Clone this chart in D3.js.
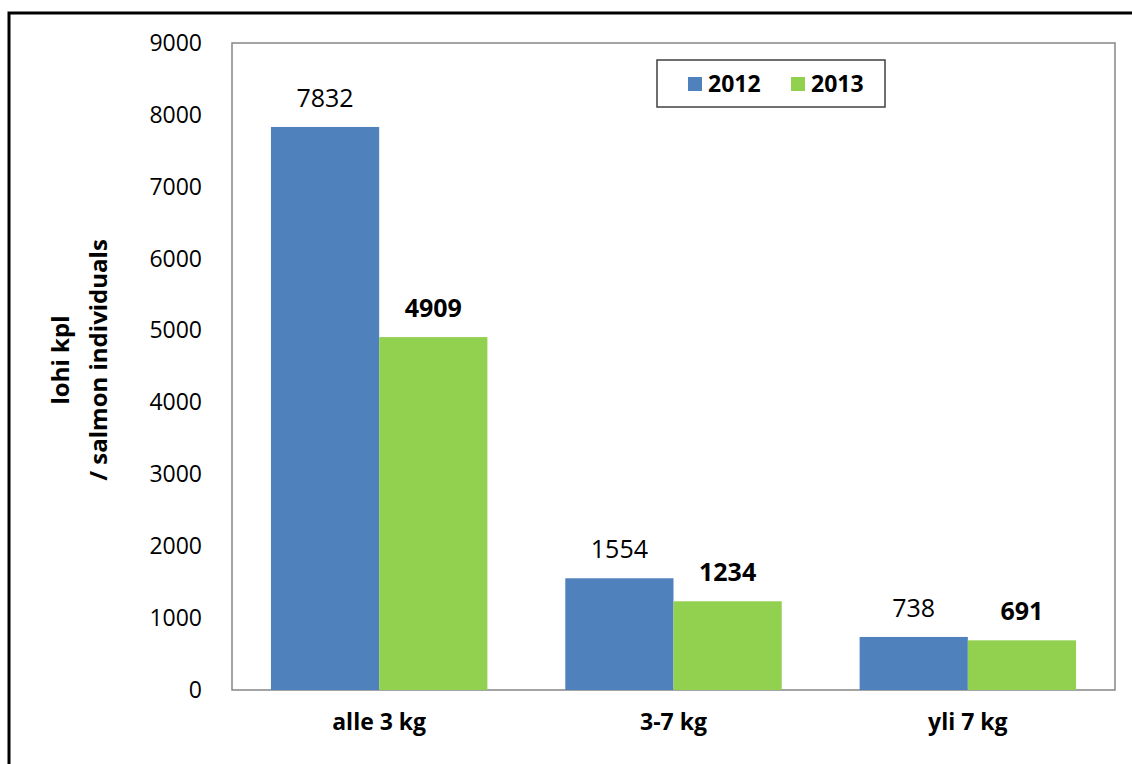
<!DOCTYPE html>
<html>
<head>
<meta charset="utf-8">
<script src="https://cdn.jsdelivr.net/npm/d3@7"></script>
<style>
  body { margin: 0; background: #fff; }
  text { font-family: "Open Sans", sans-serif; fill: #000; }
</style>
</head>
<body>
<svg id="chart" width="1132" height="764"></svg>
<script>
// data
var categories = ["alle 3 kg", "3-7 kg", "yli 7 kg"];
var years = ["2012", "2013"];
var values2012 = [7832, 1554, 738];
var values2013 = [4909, 1234, 691];
var yTicks = [0, 1000, 2000, 3000, 4000, 5000, 6000, 7000, 8000, 9000];
var colors = ["#4F81BD", "#92D050"];

var svg = d3.select("#chart");

// outer chart border (runs off the right/bottom edge)
svg.append("rect")
    .attr("x", 9).attr("y", 13)
    .attr("width", 1140).attr("height", 780)
    .attr("fill", "none")
    .attr("stroke", "#000")
    .attr("stroke-width", 3);

var plot = {left: 232, top: 43, right: 1115, bottom: 690};

var x0 = d3.scaleBand()
    .domain(categories)
    .range([plot.left, plot.right]);

var x1 = d3.scaleBand()
    .domain(years)
    .range([0, x0.bandwidth()])
    .paddingInner(0)
    .paddingOuter(0.36);

var y = d3.scaleLinear()
    .domain([0, 9000])
    .range([plot.bottom, plot.top]);

// plot area frame
svg.append("rect")
    .attr("x", plot.left).attr("y", plot.top)
    .attr("width", plot.right - plot.left)
    .attr("height", plot.bottom - plot.top)
    .attr("fill", "none")
    .attr("stroke", "#868686")
    .attr("stroke-width", 1.5);

// y axis labels
var yAxis = svg.append("g")
    .attr("transform", "translate(" + plot.left + ",0)")
    .call(d3.axisLeft(y).tickValues(yTicks).tickSize(0).tickPadding(30).tickFormat(d3.format("d")));
yAxis.select(".domain").remove();
yAxis.selectAll("text")
    .style("font-family", "Open Sans")
    .style("font-size", "23px")
    .attr("fill", "#000");

// x axis labels
var xAxis = svg.append("g")
    .attr("transform", "translate(0," + plot.bottom + ")")
    .call(d3.axisBottom(x0).tickSize(0).tickPadding(24));
xAxis.select(".domain").remove();
xAxis.selectAll("text")
    .style("font-family", "Open Sans")
    .style("font-size", "23px")
    .style("font-weight", "bold")
    .attr("fill", "#000");

var rows = categories.map(function(c, i) {
  return {cat: c, vals: [values2012[i], values2013[i]]};
});

var groups = svg.selectAll("g.grp")
    .data(rows)
    .enter().append("g")
    .attr("class", "grp")
    .attr("transform", function(d) { return "translate(" + x0(d.cat) + ",0)"; });

groups.selectAll("rect")
    .data(function(d) { return d.vals.map(function(v, j) { return {year: years[j], v: v, j: j}; }); })
    .enter().append("rect")
    .attr("x", function(d) { return x1(d.year); })
    .attr("y", function(d) { return y(d.v); })
    .attr("width", x1.bandwidth())
    .attr("height", function(d) { return y(0) - y(d.v); })
    .attr("fill", function(d) { return colors[d.j]; });

groups.selectAll("text.val")
    .data(function(d) { return d.vals.map(function(v, j) { return {year: years[j], v: v, j: j}; }); })
    .enter().append("text")
    .attr("class", "val")
    .attr("x", function(d) { return x1(d.year) + x1.bandwidth() / 2; })
    .attr("y", function(d) { return y(d.v) - 20; })
    .attr("text-anchor", "middle")
    .style("font-size", "25px")
    .style("font-weight", function(d) { return d.j === 1 ? "bold" : "normal"; })
    .text(function(d) { return d.v; });

// y axis title, two lines
svg.append("text")
    .attr("transform", "translate(69,360) rotate(-90)")
    .attr("text-anchor", "middle")
    .style("font-size", "24px")
    .style("font-weight", "bold")
    .text("lohi kpl");
svg.append("text")
    .attr("transform", "translate(107,360) rotate(-90)")
    .attr("text-anchor", "middle")
    .style("font-size", "24px")
    .style("font-weight", "bold")
    .text("/ salmon individuals");

// legend
var legend = svg.append("g");
legend.append("rect")
    .attr("x", 657).attr("y", 60)
    .attr("width", 228).attr("height", 47)
    .attr("fill", "#fff")
    .attr("stroke", "#404040")
    .attr("stroke-width", 1.5);

var legendX = [688, 791];
years.forEach(function(yr, i) {
  legend.append("rect")
      .attr("x", legendX[i]).attr("y", 77)
      .attr("width", 14).attr("height", 14)
      .attr("fill", colors[i]);
  legend.append("text")
      .attr("x", legendX[i] + 20).attr("y", 92)
      .style("font-size", "23px")
      .style("font-weight", "bold")
      .text(yr);
});
</script>
</body>
</html>
